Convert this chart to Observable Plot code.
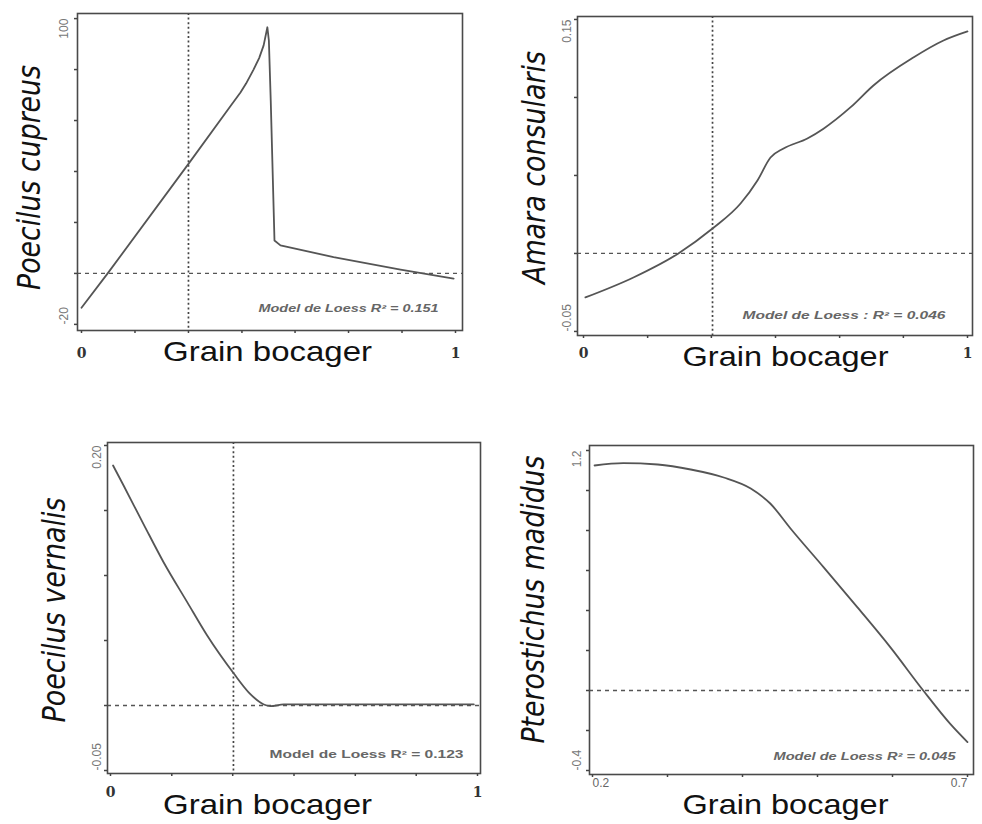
<!DOCTYPE html>
<html><head><meta charset="utf-8">
<script src="https://cdn.jsdelivr.net/npm/d3@7"></script>
<script src="https://cdn.jsdelivr.net/npm/@observablehq/plot@0.6"></script>
<style>
body{margin:0;background:#fff;}
#chart{position:relative;width:982px;height:824px;overflow:hidden;background:#fff;}
#chart > svg{position:absolute;overflow:visible;}
</style></head><body><div id="chart"></div>
<script>
// ---------- data ----------
const xLabel = "Grain bocager";
const species = ["Poecilus cupreus", "Amara consularis", "Poecilus vernalis", "Pterostichus madidus"];
const models = ["Model de Loess R² = 0.151", "Model de Loess : R² = 0.046", "Model de Loess R² = 0.123", "Model de Loess R² = 0.045"];

// Poecilus cupreus
const cupreusX = [0, 0.07, 0.286, 0.40, 0.425, 0.44, 0.46, 0.475, 0.487, 0.497, 0.501, 0.506, 0.516, 0.532, 0.674, 0.853, 0.995];
const cupreusY = [-13.5, 0, 43, 66, 71, 74.5, 80, 84.5, 89.5, 96.6, 91.4, 67.8, 12.9, 11, 6.4, 1.5, -2];
const cupreusXTicks = [0, 0.143, 0.286, 0.429, 0.571, 0.714, 0.857, 1];
const cupreusXLabels = ["0", "1"];
const cupreusYTicks = [-20, 0, 20, 40, 60, 80, 100];
const cupreusYLabels = ["100", "-20"];
const cupreusRef = {x: 0.286, y: 0};

// Amara consularis
const consularisX = [0.005, 0.13, 0.247, 0.336, 0.409, 0.453, 0.487, 0.521, 0.583, 0.625, 0.695, 0.755, 0.859, 0.9375, 1.0];
const consularisY = [-0.0282, -0.0154, 0, 0.016, 0.032, 0.0468, 0.0615, 0.0673, 0.0737, 0.080, 0.0936, 0.1077, 0.1256, 0.1365, 0.1423];
const consularisXTicks = [0, 0.167, 0.333, 0.5, 0.667, 0.833, 1];
const consularisXLabels = ["0", "1"];
const consularisYTicks = [-0.05, 0, 0.05, 0.10, 0.15];
const consularisYLabels = ["0.15", "-0.05"];
const consularisRef = {x: 0.336, y: 0};

// Poecilus vernalis
const vernalisX = [0.007, 0.036, 0.091, 0.145, 0.209, 0.263, 0.336, 0.377, 0.418, 0.436, 0.472, 0.99];
const vernalisY = [0.1846, 0.169, 0.139, 0.110, 0.0795, 0.054, 0.0246, 0.010, 0.0008, -0.0005, 0.0008, 0.0008];
const vernalisXTicks = [0, 0.167, 0.333, 0.5, 0.667, 0.833, 1];
const vernalisXLabels = ["0", "1"];
const vernalisYTicks = [-0.05, 0, 0.05, 0.10, 0.15, 0.20];
const vernalisYLabels = ["0.20", "-0.05"];
const vernalisRef = {x: 0.335, y: 0};

// Pterostichus madidus
const madidusX = [0.2027, 0.241, 0.287, 0.331, 0.375, 0.411, 0.437, 0.464, 0.508, 0.553, 0.597, 0.641, 0.677, 0.7];
const madidusY = [1.125, 1.137, 1.13, 1.105, 1.065, 1.01, 0.935, 0.81, 0.617, 0.417, 0.217, 0.0, -0.167, -0.258];
const madidusXTicks = [0.2, 0.3, 0.4, 0.5, 0.6, 0.7];
const madidusXLabels = ["0.2", "0.7"];
const madidusYTicks = [-0.4, -0.2, 0, 0.2, 0.4, 0.6, 0.8, 1.0, 1.2];
const madidusYLabels = ["1.2", "-0.4"];
const madidusRef = {x: null, y: 0};

// ---------- layout / style configs ----------
const FONT = "'Liberation Sans', Arial, sans-serif";
const NARROW = "'Liberation Sans Narrow', 'DejaVu Sans Condensed', 'Liberation Sans', sans-serif";
const panels = [
  {name: species[0], model: models[0], xs: cupreusX, ys: cupreusY, xTicks: cupreusXTicks, xLabels: cupreusXLabels,
   yTicks: cupreusYTicks, yLabels: cupreusYLabels, ref: cupreusRef,
   left: 0, top: 0, margin: [13, 29, 82, 77], xDomain: [0, 1], inset: [4, 7], yDomain: [-22.4, 102], curve: "linear",
   xLab: {dx: -2.5, dy: 30, len: 209}, yLab: {dx: -48, dy: 5.5, len: 225},
   xTickStyle: {bold: true, pad: 18, anchors: ["middle", "middle"]}, yTickPad: 10,
   modelStyle: {dx: -24, dy: -19, len: 180, italic: true}},
  {name: species[1], model: models[1], xs: consularisX, ys: consularisY, xTicks: consularisXTicks, xLabels: consularisXLabels,
   yTicks: consularisYTicks, yLabels: consularisYLabels, ref: consularisRef,
   left: 491, top: 0, margin: [16, 10, 77, 86], xDomain: [0, 1], inset: [6, 5], yDomain: [-0.0526, 0.1519], curve: "monotone-x",
   xLab: {dx: 10.5, dy: 30, len: 206}, yLab: {dx: -43, dy: -8.5, len: 233},
   xTickStyle: {bold: true, pad: 13, anchors: ["middle", "middle"]}, yTickPad: 7,
   modelStyle: {dx: -27, dy: -17, len: 203, italic: true}},
  {name: species[2], model: models[2], xs: vernalisX, ys: vernalisY, xTicks: vernalisXTicks, xLabels: vernalisXLabels,
   yTicks: vernalisYTicks, yLabels: vernalisYLabels, ref: vernalisRef,
   left: 0, top: 412, margin: [30, 11, 51, 107], xDomain: [0, 1], inset: [3, 3], yDomain: [-0.0523, 0.2023], curve: "monotone-x",
   xLab: {dx: -26.5, dy: 40, len: 209}, yLab: {dx: -53, dy: 2, len: 225},
   xTickStyle: {bold: true, pad: 14, anchors: ["middle", "middle"]}, yTickPad: 7,
   modelStyle: {dx: -17, dy: -16, len: 194, italic: false}},
  {name: species[3], model: models[3], xs: madidusX, ys: madidusY, xTicks: madidusXTicks, xLabels: madidusXLabels,
   yTicks: madidusYTicks, yLabels: madidusYLabels, ref: madidusRef,
   left: 491, top: 412, margin: [33, 9, 50, 98], xDomain: [0.2, 0.7], inset: [3, 6], yDomain: [-0.42, 1.225], curve: "monotone-x",
   xLab: {dx: 4, dy: 39, len: 206}, yLab: {dx: -56, dy: -10.5, len: 288},
   xTickStyle: {bold: false, pad: 4, anchors: ["start", "end"]}, yTickPad: 9,
   modelStyle: {dx: -18, dy: -15, len: 182, italic: true}}
];

function makePanel(c) {
  const [mt, mr, mb, ml] = c.margin;
  const pts = c.xs.map((x, i) => [x, c.ys[i]]);
  const xMin = c.xTicks[0], xMax = c.xTicks[c.xTicks.length - 1];
  const yMin = c.yTicks[0], yMax = c.yTicks[c.yTicks.length - 1];
  const marks = [
    Plot.ruleY([c.ref.y], {stroke: "#555", strokeWidth: 1.3, strokeDasharray: "4,4"})
  ];
  if (c.ref.x != null) marks.push(Plot.ruleX([c.ref.x], {stroke: "#444", strokeWidth: 1.7, strokeDasharray: "2,2.6"}));
  marks.push(
    Plot.line(pts, {stroke: "#555", strokeWidth: 1.8, curve: c.curve}),
    Plot.frame({stroke: "#4a4a4a", strokeWidth: 1.6}),
    Plot.axisX({ticks: c.xTicks, tickSize: 3, tickFormat: () => "", label: null, stroke: "#444", strokeWidth: 1.5}),
    Plot.axisX({ticks: [xMin], tickSize: 0, tickPadding: c.xTickStyle.pad, tickFormat: () => c.xLabels[0], label: null,
      textAnchor: c.xTickStyle.anchors[0], fontSize: c.xTickStyle.bold ? 14 : 12,
      fontWeight: c.xTickStyle.bold ? "bold" : "normal", fill: c.xTickStyle.bold ? "#333" : "#666",
      fontFamily: c.xTickStyle.bold ? "'DejaVu Serif', serif" : FONT}),
    Plot.axisX({ticks: [xMax], tickSize: 0, tickPadding: c.xTickStyle.pad, tickFormat: () => c.xLabels[1], label: null,
      textAnchor: c.xTickStyle.anchors[1], fontSize: c.xTickStyle.bold ? 14 : 12,
      fontWeight: c.xTickStyle.bold ? "bold" : "normal", fill: c.xTickStyle.bold ? "#333" : "#666",
      fontFamily: c.xTickStyle.bold ? "'DejaVu Serif', serif" : FONT}),
    Plot.axisY({ticks: c.yTicks, tickSize: 3, tickFormat: () => "", label: null, stroke: "#444", strokeWidth: 1.5}),
    Plot.axisY({ticks: [yMax], tickSize: 0, tickPadding: c.yTickPad, tickRotate: -90, textAnchor: "end",
      tickFormat: () => c.yLabels[0], label: null, fontSize: 12, fill: "#777", fontFamily: FONT}),
    Plot.axisY({ticks: [yMin], tickSize: 0, tickPadding: c.yTickPad, tickRotate: -90, textAnchor: "start",
      tickFormat: () => c.yLabels[1], label: null, fontSize: 12, fill: "#777", fontFamily: FONT}),
    Plot.text([c.model], {text: d => d, frameAnchor: "bottom-right", textAnchor: "end", dx: c.modelStyle.dx, dy: c.modelStyle.dy,
      fontSize: 10, fontWeight: 600, fontStyle: c.modelStyle.italic ? "italic" : "normal", fill: "#666", fontFamily: FONT}),
    Plot.text([xLabel], {text: d => d, frameAnchor: "bottom", textAnchor: "middle", dx: c.xLab.dx, dy: c.xLab.dy,
      fontSize: 28, fill: "#111", fontFamily: FONT}),
    Plot.text([c.name], {text: d => d, frameAnchor: "left", textAnchor: "middle", rotate: -90, dx: c.yLab.dx, dy: c.yLab.dy,
      fontSize: 32, fontStyle: "italic", fill: "#111", fontFamily: NARROW})
  );
  const svg = Plot.plot({
    width: 491, height: 412,
    marginTop: mt, marginRight: mr, marginBottom: mb, marginLeft: ml,
    x: {domain: c.xDomain, insetLeft: c.inset[0], insetRight: c.inset[1]},
    y: {domain: c.yDomain},
    style: {fontFamily: FONT, background: "transparent"},
    marks
  });
  const fit = (txt, len) => d3.select(svg).selectAll("text")
    .filter(function() { return this.textContent === txt; })
    .attr("textLength", len).attr("lengthAdjust", "spacingAndGlyphs");
  fit(c.name, c.yLab.len);
  fit(xLabel, c.xLab.len);
  fit(c.model, c.modelStyle.len);
  svg.style.left = c.left + "px";
  svg.style.top = c.top + "px";
  return svg;
}

const chart = document.getElementById("chart");
panels.forEach(p => chart.appendChild(makePanel(p)));
</script></body></html>
